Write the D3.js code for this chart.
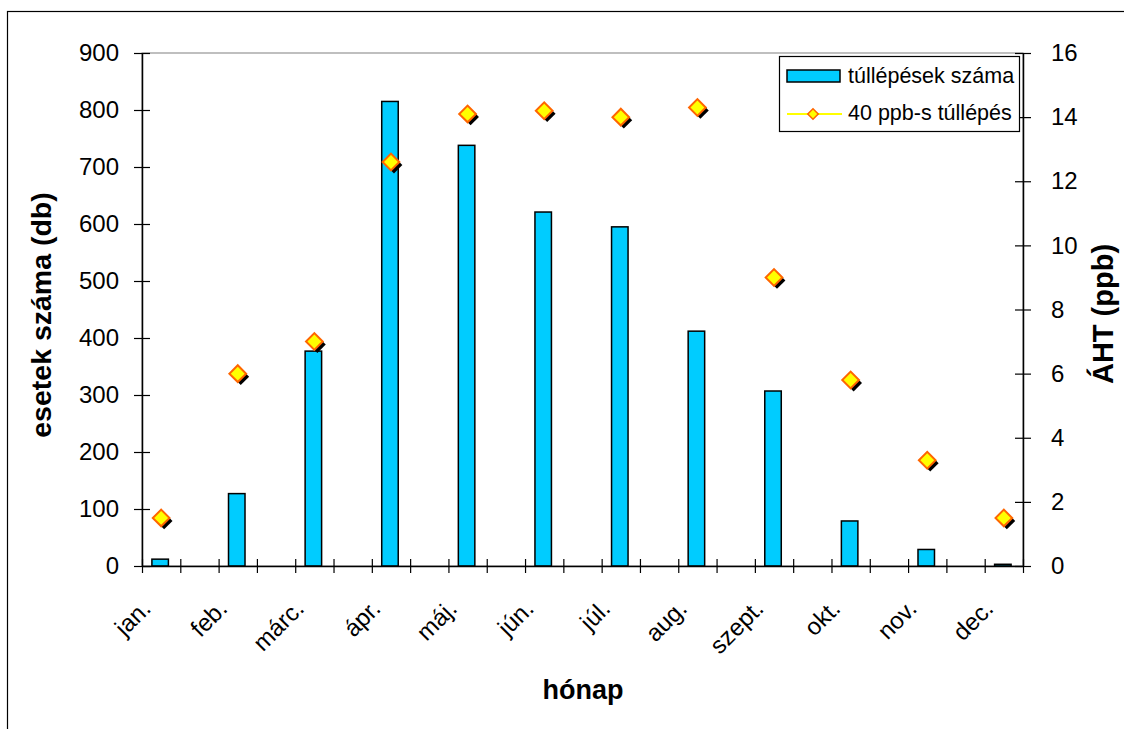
<!DOCTYPE html>
<html>
<head>
<meta charset="utf-8">
<script src="https://cdn.jsdelivr.net/npm/d3@7"></script>
<style>
  html, body { margin: 0; padding: 0; background: #fff; }
  svg { display: block; font-family: "Liberation Sans", Arial, sans-serif; }
</style>
</head>
<body>
<svg id="chart" width="1124" height="729"></svg>
<script>
// Monthly counts (left axis) and 40 ppb exceedance AOT values (right axis)
const months = ["jan.", "feb.", "márc.", "ápr.", "máj.", "jún.", "júl.", "aug.", "szept.", "okt.", "nov.", "dec."];
const counts = [12, 127, 377, 815, 738, 621, 595, 412, 307, 79, 29, 3];
const aht = [1.5, 6.0, 7.0, 12.6, 14.1, 14.2, 14.0, 14.3, 9.0, 5.8, 3.3, 1.5];
const leftTicks = [0, 100, 200, 300, 400, 500, 600, 700, 800, 900];
const rightTicks = [0, 2, 4, 6, 8, 10, 12, 14, 16];
const seriesNames = ["túllépések száma", "40 ppb-s túllépés"];

const svg = d3.select("#chart");
const plot = { left: 142, right: 1023, top: 53, bottom: 566 };

// Each month sits on every second slot of the category axis (23 slots)
const slots = d3.range(months.length * 2 - 1);
const x = d3.scaleBand().domain(slots).range([plot.left, plot.right]).paddingInner(0).paddingOuter(0);
const xEdge = d3.scaleLinear().domain([0, slots.length]).range([plot.left, plot.right]);
const yL = d3.scaleLinear().domain([0, 900]).range([plot.bottom, plot.top]);
const yR = d3.scaleLinear().domain([0, 16]).range([plot.bottom, plot.top]);
const cx = i => x(i * 2) + x.bandwidth() / 2;

// Outer chart frame
svg.append("rect")
  .attr("x", 7.5).attr("y", 11.5).attr("width", 1200).attr("height", 800)
  .attr("fill", "#fff").attr("stroke", "#000").attr("stroke-width", 1.2);

// Plot area border
svg.append("rect")
  .attr("x", plot.left).attr("y", plot.top)
  .attr("width", plot.right - plot.left).attr("height", plot.bottom - plot.top)
  .attr("fill", "none").attr("stroke", "#808080").attr("stroke-width", 1);

// Bars
const barW = 16.5;
svg.append("g").selectAll("rect")
  .data(counts)
  .join("rect")
  .attr("x", (d, i) => cx(i) - barW / 2 - 1)
  .attr("y", d => yL(d))
  .attr("width", barW)
  .attr("height", d => yL(0) - yL(d))
  .attr("fill", "#00CCFF")
  .attr("stroke", "#000")
  .attr("stroke-width", 1.5);

// Axes with crossing tick marks
function crossTicks(g, size, horizontal) {
  g.selectAll(".tick line")
    .attr(horizontal ? "y1" : "x1", -size)
    .attr(horizontal ? "y2" : "x2", size)
    .attr("stroke", "#000").attr("stroke-width", 1.2);
  g.select(".domain").attr("stroke", "#000").attr("stroke-width", 1.5);
}

const gL = svg.append("g").attr("transform", `translate(${plot.left},0)`)
  .call(d3.axisLeft(yL).tickValues(leftTicks).tickSizeOuter(0).tickPadding(17));
crossTicks(gL, 8, false);
gL.selectAll("text").attr("font-size", 24).attr("fill", "#000").attr("font-family", "Liberation Sans, Arial");

const gR = svg.append("g").attr("transform", `translate(${plot.right},0)`)
  .call(d3.axisRight(yR).tickValues(rightTicks).tickSizeOuter(0).tickPadding(22));
crossTicks(gR, 8, false);
gR.selectAll("text").attr("font-size", 24).attr("fill", "#000").attr("font-family", "Liberation Sans, Arial");

const gB = svg.append("g").attr("transform", `translate(0,${plot.bottom})`)
  .call(d3.axisBottom(xEdge).tickValues(d3.range(slots.length + 1)).tickSizeOuter(0).tickFormat(""));
crossTicks(gB, 7, true);

// Month labels, rotated
svg.append("g").selectAll("text")
  .data(months)
  .join("text")
  .attr("transform", (d, i) => `translate(${cx(i) - 9},${plot.bottom + 44}) rotate(-45)`)
  .attr("text-anchor", "end")
  .attr("font-size", 24)
  .attr("fill", "#000")
  .text(d => d);

// Markers with drop shadow
const marker = d3.symbol().type(d3.symbolSquare).size(140);
const gM = svg.append("g");
gM.selectAll("path.shadow")
  .data(aht)
  .join("path")
  .attr("class", "shadow")
  .attr("d", marker)
  .attr("transform", (d, i) => `translate(${cx(i) + 3},${yR(d) + 3}) rotate(45)`)
  .attr("fill", "#000");
gM.selectAll("path.mk")
  .data(aht)
  .join("path")
  .attr("class", "mk")
  .attr("d", marker)
  .attr("transform", (d, i) => `translate(${cx(i)},${yR(d)}) rotate(45)`)
  .attr("fill", "#FFFF00")
  .attr("stroke", "#FF6600")
  .attr("stroke-width", 2);

// Axis titles
svg.append("text")
  .attr("transform", `translate(51,315) rotate(-90)`)
  .attr("text-anchor", "middle")
  .attr("font-size", 28.5).attr("font-weight", "bold")
  .text("esetek száma (db)");
svg.append("text")
  .attr("transform", `translate(1113,314) rotate(-90)`)
  .attr("text-anchor", "middle")
  .attr("font-size", 29).attr("font-weight", "bold")
  .text("ÁHT (ppb)");
svg.append("text")
  .attr("x", 583).attr("y", 699)
  .attr("text-anchor", "middle")
  .attr("font-size", 27).attr("font-weight", "bold")
  .text("hónap");

// Legend
const lg = svg.append("g");
lg.append("rect")
  .attr("x", 779.5).attr("y", 56.5).attr("width", 240).attr("height", 75)
  .attr("fill", "#fff").attr("stroke", "#000").attr("stroke-width", 1.2);
lg.append("rect")
  .attr("x", 787).attr("y", 70).attr("width", 53).attr("height", 12)
  .attr("fill", "#00CCFF").attr("stroke", "#000").attr("stroke-width", 1.5);
lg.append("line")
  .attr("x1", 787).attr("x2", 842).attr("y1", 114).attr("y2", 114)
  .attr("stroke", "#FFFF00").attr("stroke-width", 2);
lg.append("path")
  .attr("d", d3.symbol().type(d3.symbolSquare).size(55))
  .attr("transform", "translate(813,114) rotate(45)")
  .attr("fill", "#FFFF00").attr("stroke", "#FF6600").attr("stroke-width", 1.5);
lg.selectAll("text.lbl")
  .data(seriesNames)
  .join("text")
  .attr("class", "lbl")
  .attr("x", 848)
  .attr("y", (d, i) => 83 + i * 37)
  .attr("font-size", 21.5)
  .attr("fill", "#000")
  .text(d => d);
</script>
</body>
</html>
